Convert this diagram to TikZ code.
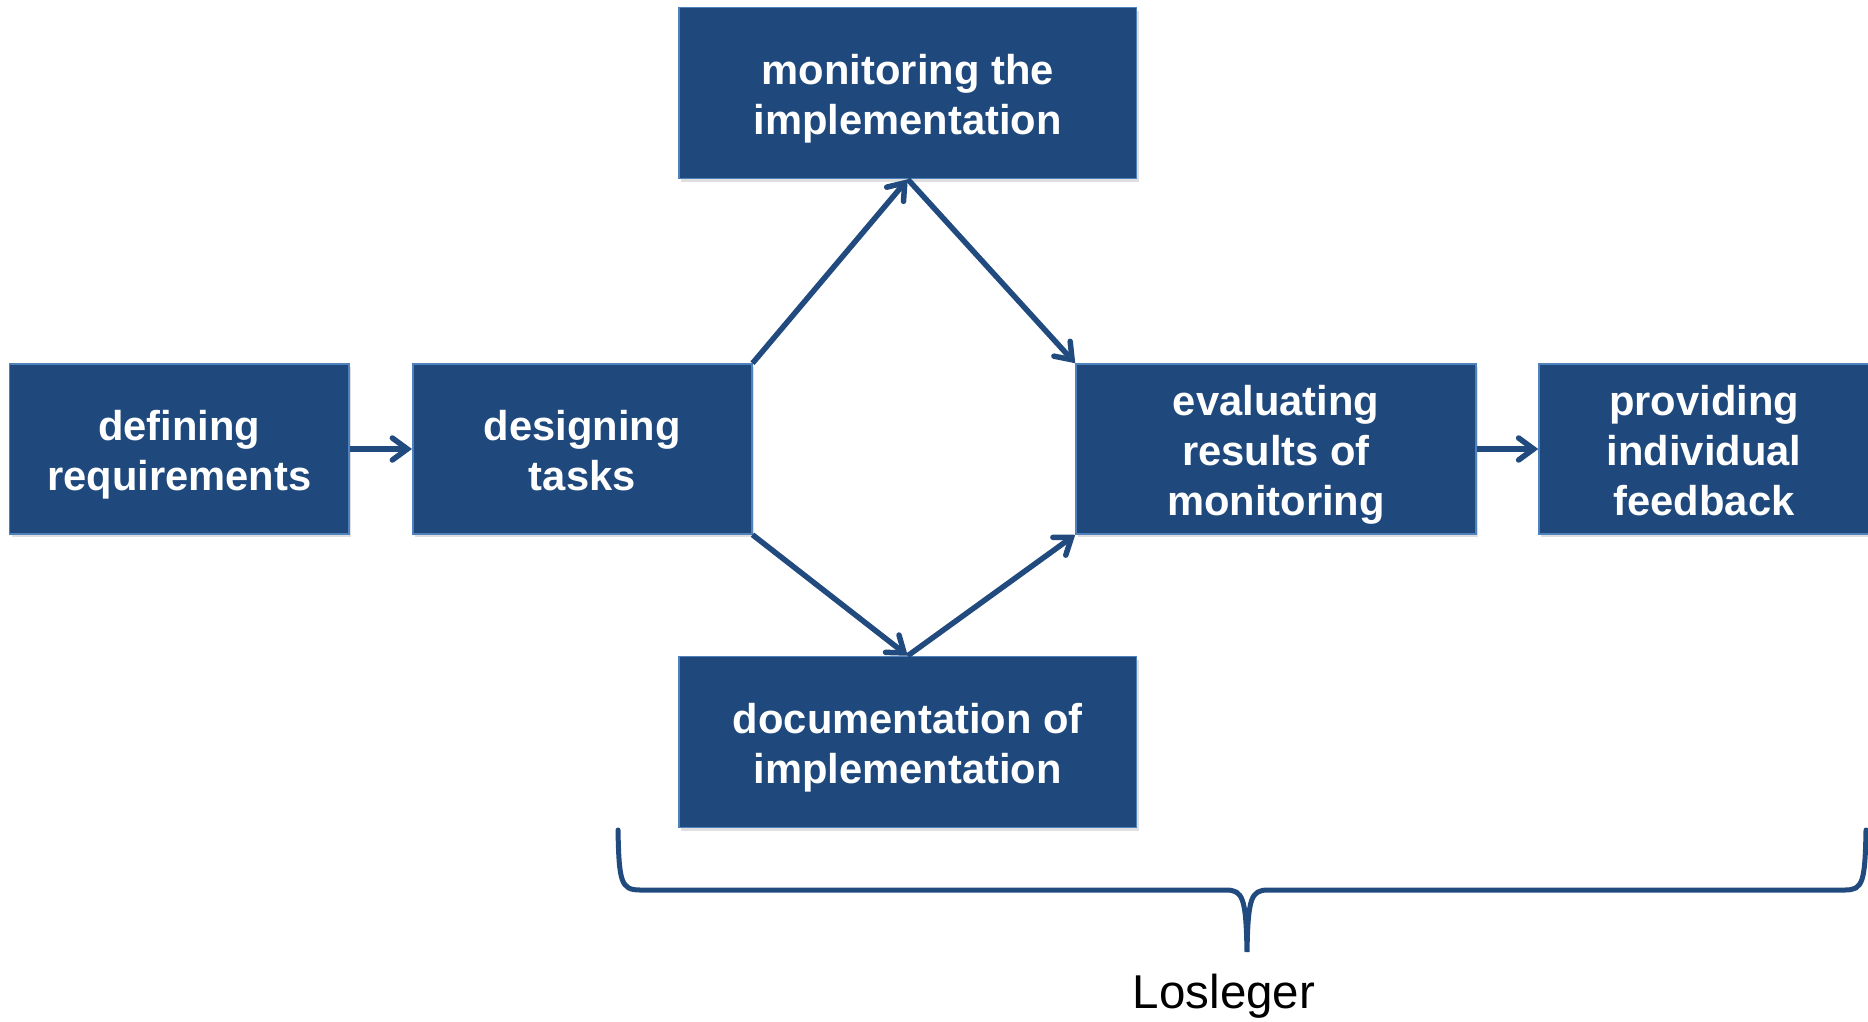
\documentclass[tikz,border=0pt]{standalone}
\usepackage{fontspec}
\setmainfont{Liberation Sans}
\usetikzlibrary{arrows.meta,shadows}
\definecolor{boxfill}{RGB}{31,73,125}
\definecolor{boxedge}{RGB}{79,129,189}
\definecolor{lineblue}{RGB}{33,74,126}
\newcommand{\bstrut}{\rule[-9pt]{0pt}{50pt}}
\begin{document}
\begin{tikzpicture}[x=1pt,y=-1pt,
  stepbox/.style={rectangle, fill=boxfill, draw=boxedge, line width=1.5pt,
    inner sep=0pt, text=white, align=center,
    font=\fontsize{41.7}{50}\selectfont\bfseries,
    drop shadow={opacity=0.25, shadow xshift=2pt, shadow yshift=-3pt}},
  conn/.style={draw=lineblue, line width=5.5pt,
    -{Straight Barb[length=15pt,width=22pt,line width=5.5pt,line cap=round]}},
  bracestyle/.style={draw=lineblue, line width=5pt, line cap=round}]
\useasboundingbox (0,0) rectangle (1868,1021);
\node[stepbox, minimum width=339.5pt, minimum height=170pt] (def) at (179.25,449) {defining\bstrut\\requirements\bstrut};
\node[stepbox, minimum width=339pt, minimum height=170pt] (des) at (582.25,449) {designing\bstrut\\tasks\bstrut};
\node[stepbox, minimum width=457.5pt, minimum height=171pt] (mon) at (907.75,93) {monitoring the\bstrut\\implementation\bstrut};
\node[stepbox, minimum width=457.5pt, minimum height=171pt] (doc) at (907.75,742) {documentation of\bstrut\\implementation\bstrut};
\node[stepbox, minimum width=400pt, minimum height=170pt] (eva) at (1276,449) {evaluating\bstrut\\results of\bstrut\\monitoring\bstrut};
\node[stepbox, minimum width=330pt, minimum height=170pt] (pro) at (1704,449) {providing\bstrut\\individual\bstrut\\feedback\bstrut};
\draw[conn] (def.east) -- (des.west);
\draw[conn] (des.north east) -- (mon.south);
\draw[conn] (mon.south) -- (eva.north west);
\draw[conn] (des.south east) -- (doc.north);
\draw[conn] (doc.north) -- (eva.south west);
\draw[conn] (eva.east) -- (pro.west);
\coordinate (bl) at (618,830);
\coordinate (bt) at (1247,952);
\coordinate (br) at (1866,830);
\draw[bracestyle] (bl) .. controls (619,882) and (621,890) .. (640,890) -- (1226,890)
  .. controls (1243,890) and (1246,898) .. (bt)
  .. controls (1248,898) and (1251,890) .. (1268,890) -- (1845,890)
  .. controls (1863,890) and (1865,882) .. (br);
\node[anchor=base, font=\fontsize{47.5}{56}\selectfont, text=black, inner sep=0pt] (los) at (1224,1008) {Losleger};
\end{tikzpicture}
\end{document}
